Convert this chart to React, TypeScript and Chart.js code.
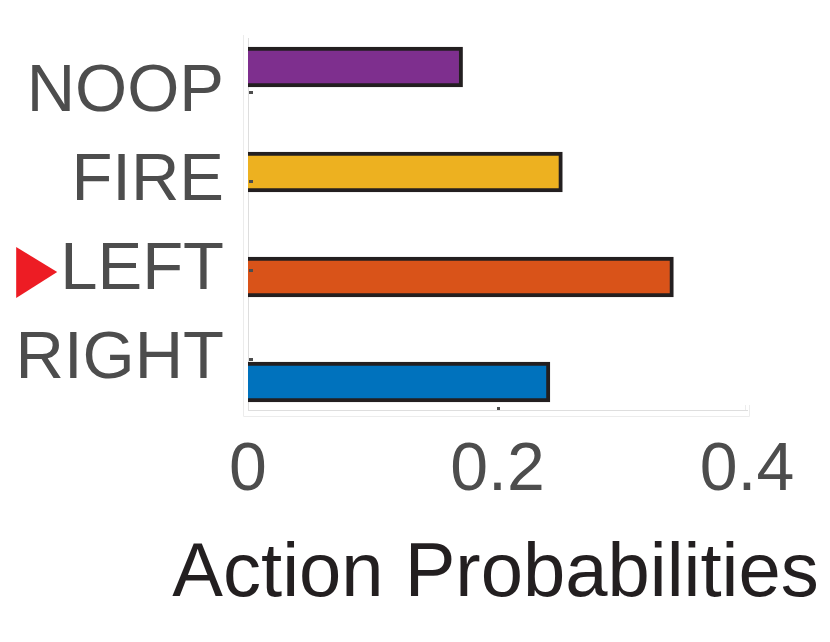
import React, { useEffect, useRef } from 'react';
import { Chart, registerables } from 'chart.js';

Chart.register(...registerables);

const ACTIONS = ['NOOP', 'FIRE', 'LEFT', 'RIGHT'];
const PROBS = [0.172, 0.252, 0.341, 0.242];
const BAR_COLORS = ['#7E2F8E', '#EDB120', '#D95319', '#0072BD'];
const X_TICKS = [0, 0.2, 0.4];
const SELECTED_ACTION = 'LEFT';
const X_TITLE = 'Action Probabilities';

const FONT = "'Liberation Sans', Arial, Helvetica, sans-serif";
const Y_LABEL_PAD = 24;

const decorPlugin = {
  id: 'decor',
  afterDraw(chart: any) {
    const { ctx, chartArea } = chart;
    const yLab = chart.scales.y;
    const x = chart.scales.x;
    const { left, right, top, bottom } = chartArea;
    ctx.save();
    // faint outer frame
    ctx.strokeStyle = '#ececec';
    ctx.lineWidth = 1;
    ctx.beginPath();
    ctx.moveTo(left - 4.5, top - 3);
    ctx.lineTo(left - 4.5, bottom + 6.5);
    ctx.lineTo(right + 2.5, bottom + 6.5);
    ctx.lineTo(right + 2.5, bottom - 5);
    ctx.moveTo(right - 1.5, bottom - 5);
    ctx.lineTo(right - 1.5, bottom);
    ctx.stroke();
    // small tick marks
    ctx.fillStyle = '#4d4d4d';
    ACTIONS.forEach((_, i) => {
      const py = yLab.getPixelForValue(i);
      ctx.fillRect(left + 1, Math.round(py) - 2, 4, 3);
    });
    X_TICKS.forEach((v) => {
      if (v === 0 || v === X_TICKS[X_TICKS.length - 1]) return;
      const px = x.getPixelForValue(v);
      ctx.fillRect(Math.round(px) - 1, bottom - 3, 3, 3);
    });
    // red marker before selected action
    const idx = ACTIONS.indexOf(SELECTED_ACTION);
    if (idx >= 0) {
      const py = yLab.getPixelForValue(idx);
      ctx.font = `67px ${FONT}`;
      const w = ctx.measureText(SELECTED_ACTION).width;
      const textRight = left - Y_LABEL_PAD;
      const tipX = textRight - w - 3;
      ctx.fillStyle = '#ED1C24';
      ctx.beginPath();
      ctx.moveTo(tipX, py + 1);
      ctx.lineTo(tipX - 41, py - 24);
      ctx.lineTo(tipX - 41, py + 27);
      ctx.closePath();
      ctx.fill();
    }
    // axis title, centred under the plot area
    ctx.font = `76px ${FONT}`;
    ctx.fillStyle = '#231F20';
    ctx.textAlign = 'center';
    ctx.textBaseline = 'alphabetic';
    ctx.fillText(X_TITLE, (left + right) / 2 - 2, 596);
    ctx.restore();
  },
};

export default function App() {
  const ref = useRef<HTMLCanvasElement>(null);
  useEffect(() => {
    if (!ref.current) return;
    const chart = new Chart(ref.current, {
      type: 'bar',
      data: {
        datasets: [
          {
            data: PROBS.map((p, i) => ({ x: p, y: i })),
            backgroundColor: BAR_COLORS,
            borderColor: '#231F20',
            borderWidth: 4,
            borderSkipped: 'start',
            barThickness: 40,
            xAxisID: 'x',
            yAxisID: 'yb',
          },
        ],
      },
      plugins: [decorPlugin],
      options: {
        indexAxis: 'y',
        animation: false,
        responsive: false,
        devicePixelRatio: 1,
        layout: { padding: { top: 38, right: 83, bottom: 0, left: 0 } },
        plugins: { legend: { display: false }, tooltip: { enabled: false } },
        scales: {
          x: {
            type: 'linear',
            position: 'bottom',
            min: 0,
            max: 0.4,
            offset: false,
            afterBuildTicks: (s: any) => {
              s.ticks = X_TICKS.map((v) => ({ value: v }));
            },
            afterFit: (s: any) => {
              s.height = 232;
            },
            grid: { display: false, drawTicks: false, offset: false },
            border: { display: true, color: '#dedede', width: 1 },
            ticks: {
              color: '#4d4d4d',
              padding: 27,
              font: { family: FONT, size: 68, lineHeight: 1 },
              callback: (v: any) => String(Math.round(Number(v) * 10) / 10),
            },
            title: { display: false },
          },
          y: {
            type: 'linear',
            position: 'left',
            reverse: true,
            offset: false,
            min: -0.618,
            max: 3.562,
            afterBuildTicks: (s: any) => {
              s.ticks = ACTIONS.map((_, i) => ({ value: i }));
            },
            afterFit: (s: any) => {
              s.width = 248;
            },
            grid: { display: false, drawTicks: false, offset: false },
            border: { display: true, color: '#dedede', width: 1 },
            ticks: {
              color: '#4d4d4d',
              padding: Y_LABEL_PAD,
              font: { family: FONT, size: 67, lineHeight: 0.2 },
              callback: (v: any) => ACTIONS[Number(v)] ?? '',
            },
          },
          yb: {
            type: 'linear',
            display: false,
            reverse: true,
            offset: false,
            grid: { offset: false },
            min: -0.276,
            max: 3.267,
          },
        },
      },
    } as any);
    return () => chart.destroy();
  }, []);
  return (
    <div style={{ position: 'absolute', left: 0, top: 0, width: 830, height: 642, background: '#fff' }}>
      <canvas ref={ref} width={830} height={642} />
    </div>
  );
}
